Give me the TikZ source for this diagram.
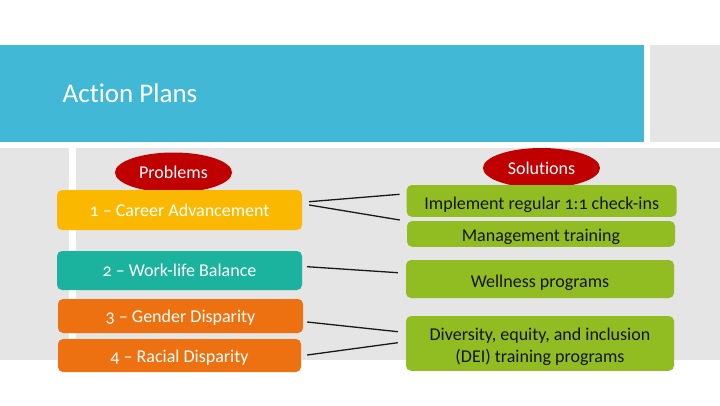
\documentclass[tikz,border=0pt]{standalone}
\usepackage{fontspec}
\setmainfont[Numbers=OldStyle,Ligatures={NoCommon,NoDiscretionary}]{Carlito}
\usetikzlibrary{shapes.geometric,calc}

\definecolor{bandblue}{RGB}{65,184,213}
\definecolor{panelgray}{RGB}{229,229,229}
\definecolor{pyellow}{RGB}{251,184,0}
\definecolor{pteal}{RGB}{27,178,158}
\definecolor{porange}{RGB}{237,113,16}
\definecolor{sgreen}{RGB}{146,189,34}
\definecolor{tagred}{RGB}{192,0,0}
\definecolor{darktext}{RGB}{20,20,20}

% set a label with its baseline #1 pt below the node centre
\newcommand\baseto[2]{\raisebox{-#1pt}[0pt][0pt]{#2}}

\tikzset{
  probbox/.style={rounded corners=5pt, draw=none, text=white,
    font=\fontsize{18}{22}\selectfont, inner sep=0pt},
  solbox/.style={rounded corners=5pt, draw=none, fill=sgreen, text=darktext,
    font=\fontsize{18}{22}\selectfont, inner sep=0pt},
  tag/.style={ellipse, fill=tagred, draw=none, text=white,
    minimum width=117pt, minimum height=40pt, inner sep=0pt,
    font=\fontsize{18}{22}\selectfont},
  link/.style={draw=black!90, line width=1.3pt}
}

\begin{document}
\begin{tikzpicture}[x=1pt,y=-1pt]
  \useasboundingbox (0,0) rectangle (720,405);
  \fill[white] (0,0) rectangle (720,405);

  % header band and panels
  \fill[bandblue] (0,45) rectangle (644,142);
  \fill[panelgray] (650,45) rectangle (720,142);
  \fill[panelgray] (0,148) rectangle (69,360);
  \fill[panelgray] (76,148) rectangle (720,360);
  \node[anchor=base west, text=white, inner sep=0pt,
        font=\fontsize{27}{30}\selectfont] (title) at (62.5,102.5) {Action Plans};

  % column tags
  \node[tag] (ptag) at (173.5,172.5) {\baseto{6}{Problems}};
  \node[tag] (stag) at (541.5,168) {\baseto{6.3}{Solutions}};

  % problems
  \node[probbox, fill=pyellow, minimum width=245pt, minimum height=40pt] (p1) at (179.5,210) {\baseto{6}{1 – Career Advancement}};
  \node[probbox, fill=pteal, minimum width=245pt, minimum height=39pt] (p2) at (179.5,270.5) {\baseto{5.5}{2 – Work-life Balance}};
  \node[probbox, fill=porange, minimum width=245pt, minimum height=34pt] (p3) at (180.5,316) {\baseto{6.5}{3 – Gender Disparity}};
  \node[probbox, fill=porange, minimum width=243pt, minimum height=33pt] (p4) at (179.5,355.5) {\baseto{7}{4 – Racial Disparity}};

  % solutions
  \node[solbox, minimum width=270pt, minimum height=31.7pt] (s1) at (541.7,200.9) {\baseto{8.3}{Implement regular 1:1 check-ins}};
  \node[solbox, minimum width=268pt, minimum height=25.7pt] (s2) at (541,233.9) {\baseto{7.8}{Management training}};
  \node[solbox, minimum width=268pt, minimum height=38pt] (s3) at (540,279) {\baseto{8.7}{Wellness programs}};
  \node[solbox, minimum width=268pt, minimum height=54.7pt] (s4) at (540,343.4) {\baseto{19.3}{\begin{tabular}[b]{@{}c@{}}Diversity, equity, and inclusion\\(DEI) training programs\end{tabular}}};

  % connectors
  \draw[link] ($(p1.east)+(7,-8.3)$) -- ($(s1.west)+(-7,-6.6)$);
  \draw[link] ($(p1.east)+(7,-5)$) -- ($(s2.west)+(-7,-13.9)$);
  \draw[link] ($(p2.east)+(5,-3.8)$) -- ($(s3.west)+(-8,-6.3)$);
  \draw[link] ($(p3.east)+(4,6)$) -- ($(s4.west)+(-8,-11.7)$);
  \draw[link] ($(p4.east)+(6,-0.5)$) -- ($(s4.west)+(-8,-0.7)$);
\end{tikzpicture}
\end{document}
